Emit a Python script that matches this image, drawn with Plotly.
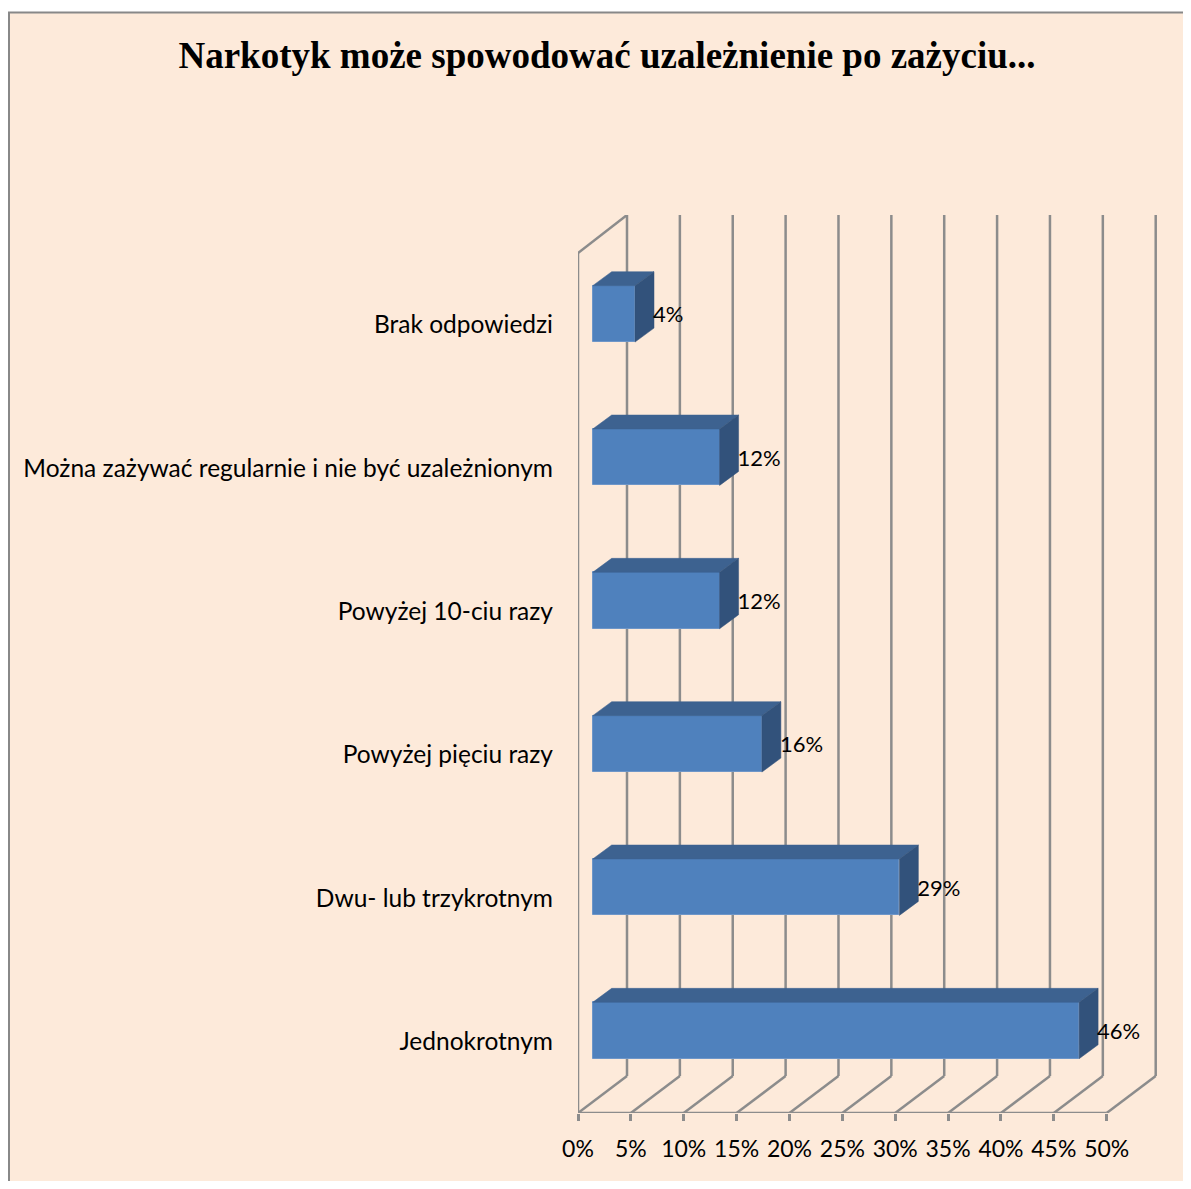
import plotly.graph_objects as go

# ---- data ----
categories = [
    "Jednokrotnym",
    "Dwu- lub trzykrotnym",
    "Powyżej pięciu razy",
    "Powyżej 10-ciu razy",
    "Można zażywać regularnie i nie być uzależnionym",
    "Brak odpowiedzi",
]
values = [46, 29, 16, 12, 12, 4]
value_labels = ["46%", "29%", "16%", "12%", "12%", "4%"]
x_ticks = [0, 5, 10, 15, 20, 25, 30, 35, 40, 45, 50]
x_tick_labels = ["0%", "5%", "10%", "15%", "20%", "25%", "30%", "35%", "40%", "45%", "50%"]
title = "Narkotyk może spowodować uzależnienie po zażyciu..."

# ---- layout geometry (page has an 8px body margin) ----
OFF = 8
W, H = 1191, 1189 - 2 * OFF
ML, MT = 578 - OFF, 215 - OFF
MR = W - (1157 - OFF)
MB = H - (1113 - OFF)
PW, PH = W - ML - MR, H - MT - MB
PX_PER_X = 10.574          # px per 1 %
PX_PER_Y = 143.33          # px per category band
XMAX = PW / PX_PER_X
YMAX = PH / PX_PER_Y

def dxu(px):
    return px / PX_PER_X

def dyu(px):
    return px / PX_PER_Y

def paper_x(px):
    return (px - ML) / PW

def paper_y(py):
    return (H - MB - py) / PH

FLOOR_DX, FLOOR_DY = dxu(49), dyu(37)
BAR_OFF_X, BAR_OFF_Y = dxu(14.7), dyu(10.8)
BAR_DX, BAR_DY = dxu(19), dyu(14)
BAR_HALF = dyu(28.2)
NCAT = len(categories)

GRID = "#8C8C8C"
BG = "#FDEADA"
FRONT = "#4F81BD"
TOP = "#3D6290"
SIDE = "#32527B"
FONT = "Lato"

fig = go.Figure()

# front faces of bars
centers = [i + 0.5 + BAR_OFF_Y for i in range(NCAT)]
fig.add_trace(go.Bar(
    x=values, y=centers, base=[BAR_OFF_X] * NCAT, orientation="h",
    width=[2 * BAR_HALF] * NCAT,
    marker=dict(color=FRONT, line=dict(color="#6E96C8", width=1)),
    hoverinfo="skip", showlegend=False,
))

# top and side faces
for v, c in zip(values, centers):
    x0 = BAR_OFF_X
    x1 = BAR_OFF_X + v
    yt, yb = c + BAR_HALF, c - BAR_HALF
    fig.add_trace(go.Scatter(
        x=[x0, x0 + BAR_DX, x1 + BAR_DX, x1, x0],
        y=[yt, yt + BAR_DY, yt + BAR_DY, yt, yt],
        fill="toself", fillcolor=TOP, mode="lines", line=dict(width=0.5, color=TOP),
        hoverinfo="skip", showlegend=False, cliponaxis=False,
    ))
    fig.add_trace(go.Scatter(
        x=[x1, x1 + BAR_DX, x1 + BAR_DX, x1, x1],
        y=[yt, yt + BAR_DY, yb + BAR_DY, yb, yt],
        fill="toself", fillcolor=SIDE, mode="lines", line=dict(width=0.5, color=SIDE),
        hoverinfo="skip", showlegend=False, cliponaxis=False,
    ))

# data labels
fig.add_trace(go.Scatter(
    x=[BAR_OFF_X + v + dxu(18) for v in values], y=[c - dyu(3) for c in centers],
    mode="text", text=value_labels, textposition="middle right",
    textfont=dict(family=FONT, size=22, color="black"),
    hoverinfo="skip", showlegend=False, cliponaxis=False,
))

# ---- background frame, walls and gridlines as shapes below traces ----
shapes = [dict(type="rect", xref="paper", yref="paper",
               x0=paper_x(1), x1=paper_x(W + 20), y0=paper_y(H + 20), y1=paper_y(4.5),
               fillcolor=BG, line=dict(color="#888888", width=2), layer="below")]
lw = 2.5
for t in x_ticks:
    shapes.append(dict(type="line", xref="x", yref="y", x0=t, y0=0,
                       x1=t + FLOOR_DX, y1=FLOOR_DY, line=dict(color=GRID, width=lw), layer="below"))
    shapes.append(dict(type="line", xref="x", yref="y", x0=t + FLOOR_DX, y0=FLOOR_DY,
                       x1=t + FLOOR_DX, y1=YMAX, line=dict(color=GRID, width=lw), layer="below"))
# floor front edge
shapes.append(dict(type="line", xref="x", yref="y", x0=0, y0=0, x1=x_ticks[-1], y1=0,
                   line=dict(color=GRID, width=lw), layer="below"))
# left wall
shapes.append(dict(type="line", xref="x", yref="y", x0=0, y0=0, x1=0, y1=NCAT,
                   line=dict(color=GRID, width=lw), layer="below"))
shapes.append(dict(type="line", xref="x", yref="y", x0=0, y0=NCAT, x1=FLOOR_DX, y1=YMAX,
                   line=dict(color=GRID, width=lw), layer="below"))
# left wall ticks at category boundaries
for k in range(NCAT + 1):
    shapes.append(dict(type="line", xref="x", yref="y", x0=-dxu(8), y0=k, x1=0, y1=k,
                       line=dict(color=GRID, width=lw), layer="below"))

fig.update_layout(
    width=W, height=H, autosize=False,
    margin=dict(l=ML, r=MR, t=MT, b=MB, pad=0),
    paper_bgcolor="white", plot_bgcolor="rgba(0,0,0,0)",
    shapes=shapes, showlegend=False,
    title=dict(text=f"<b>{title}</b>", x=(607 - OFF) / W, xanchor="center",
               y=1 - (55 - OFF) / H, yanchor="middle",
               font=dict(family="Liberation Serif", size=37, color="black")),
    xaxis=dict(range=[0, XMAX], tickvals=x_ticks, ticktext=x_tick_labels,
               showgrid=False, zeroline=False, showline=False,
               ticks="outside", ticklen=7, tickwidth=2.5, tickcolor=GRID,
               ticklabelstandoff=8,
               tickfont=dict(family=FONT, size=23, color="black"), fixedrange=True),
    yaxis=dict(range=[0, YMAX], tickvals=[i + 0.5 for i in range(NCAT)], ticktext=categories,
               showgrid=False, zeroline=False, showline=False, ticks="",
               ticklabelstandoff=24,
               tickfont=dict(family=FONT, size=24.5, color="black"), fixedrange=True),
    bargap=0,
)

fig.write_html("out.html")
